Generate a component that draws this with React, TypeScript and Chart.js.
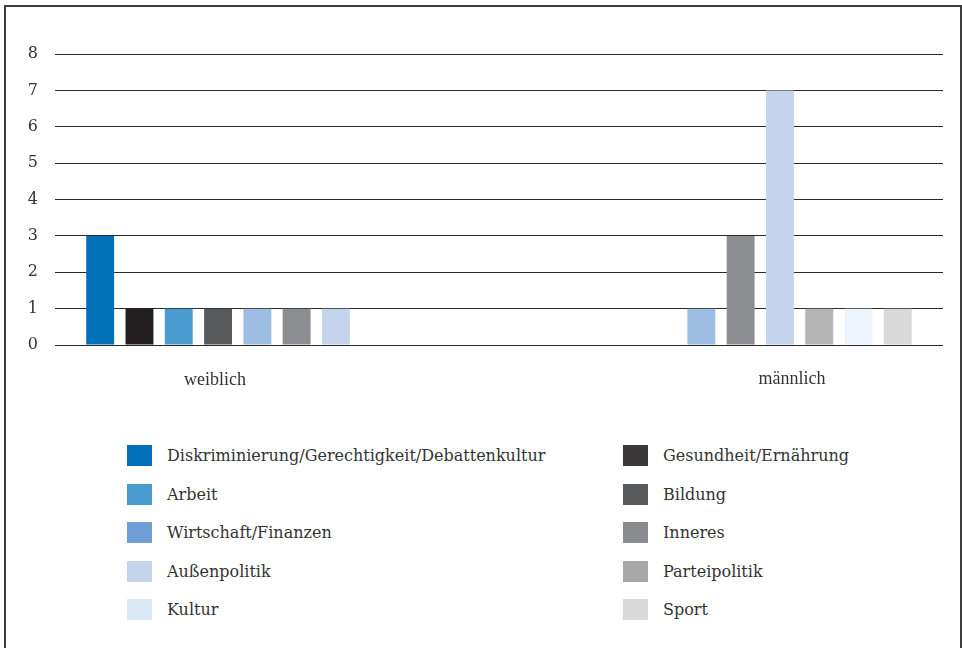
import React, { useEffect, useRef } from 'react';
import { Chart, registerables } from 'chart.js';

Chart.register(...registerables);

const categories = ['weiblich', 'männlich'];
const seriesNames = [
  'Diskriminierung/Gerechtigkeit/Debattenkultur',
  'Gesundheit/Ernährung',
  'Arbeit',
  'Bildung',
  'Wirtschaft/Finanzen',
  'Inneres',
  'Außenpolitik',
  'Parteipolitik',
  'Kultur',
  'Sport',
];
const weiblichValues = [3, 1, 1, 1, 1, 1, 1, 0, 0, 0];
const maennlichValues = [0, 0, 0, 0, 1, 3, 7, 1, 1, 1];
const barColors = [
  '#0070b8', '#231f20', '#4a9bd0', '#58595b', '#9dbde2',
  '#8c8d90', '#c3d4ec', '#b4b4b4', '#eef4fc', '#d8d8d8',
];
const legendColors = [
  '#0070b8', '#3a3738', '#4a9bd0', '#58595b', '#6f9fd6',
  '#8a8b8e', '#c3d4ec', '#a8a8a8', '#dbe8f5', '#d8d8d8',
];
const yTicks = [0, 1, 2, 3, 4, 5, 6, 7, 8];
const labelShift = [-62, 71];

const catLabelPlugin = {
  id: 'catLabels',
  afterDraw(chart: any) {
    const { ctx } = chart;
    const xs = chart.scales.x;
    ctx.save();
    ctx.font = '18px "Liberation Serif"';
    ctx.fillStyle = '#333';
    ctx.textAlign = 'center';
    ctx.textBaseline = 'middle';
    categories.forEach((c, i) => {
      ctx.fillText(c, xs.getPixelForValue(i) + labelShift[i], chart.chartArea.bottom + 35 - i);
    });
    ctx.restore();
  },
};

export default function App() {
  const ref = useRef<HTMLCanvasElement | null>(null);
  useEffect(() => {
    if (!ref.current) return;
    const chart = new Chart(ref.current, {
      type: 'bar',
      data: {
        labels: categories,
        datasets: seriesNames.map((name, i) => ({
          label: name,
          data: [weiblichValues[i], maennlichValues[i]],
          backgroundColor: barColors[i],
          borderWidth: 0,
          categoryPercentage: 0.885,
          barPercentage: 0.71,
        })),
      },
      options: {
        responsive: false,
        animation: false,
        layout: { padding: { top: 47, bottom: 72, left: 0, right: 17 } },
        plugins: { legend: { display: false }, tooltip: { enabled: false } },
        scales: {
          x: { display: false },
          y: {
            min: 0,
            max: 8,
            afterFit(scale: any) { scale.width = 49; },
            afterBuildTicks(scale: any) { scale.ticks = yTicks.map((v) => ({ value: v })); },
            border: { display: false },
            grid: { color: '#2a2a2a', lineWidth: 1, drawTicks: false },
            ticks: {
              padding: 17,
              color: '#333',
              font: { family: '"DejaVu Serif"', size: 16 },
            },
          },
        },
      },
      plugins: [catLabelPlugin],
    });
    return () => chart.destroy();
  }, []);

  return (
    <div
      style={{
        position: 'absolute',
        left: 4,
        top: 5,
        width: 958,
        height: 700,
        boxSizing: 'border-box',
        border: '2px solid #3d3d3d',
        background: '#fff',
      }}
    >
      <canvas ref={ref} width={954} height={410} style={{ position: 'absolute', left: 0, top: 0 }} />
      <div
        style={{
          position: 'absolute',
          left: 121,
          top: 438,
          display: 'grid',
          gridTemplateColumns: '496px 300px',
          gridAutoRows: '38.5px',
        }}
      >
        {seriesNames.map((name, i) => (
          <div key={name} style={{ display: 'flex', alignItems: 'flex-start' }}>
            <div style={{ width: 25, height: 21, background: legendColors[i], flex: 'none' }} />
            <span
              style={{
                marginLeft: 15,
                fontFamily: '"DejaVu Serif"',
                fontSize: 16,
                color: '#333',
                lineHeight: '21px',
                whiteSpace: 'nowrap',
              }}
            >
              {name}
            </span>
          </div>
        ))}
      </div>
    </div>
  );
}
